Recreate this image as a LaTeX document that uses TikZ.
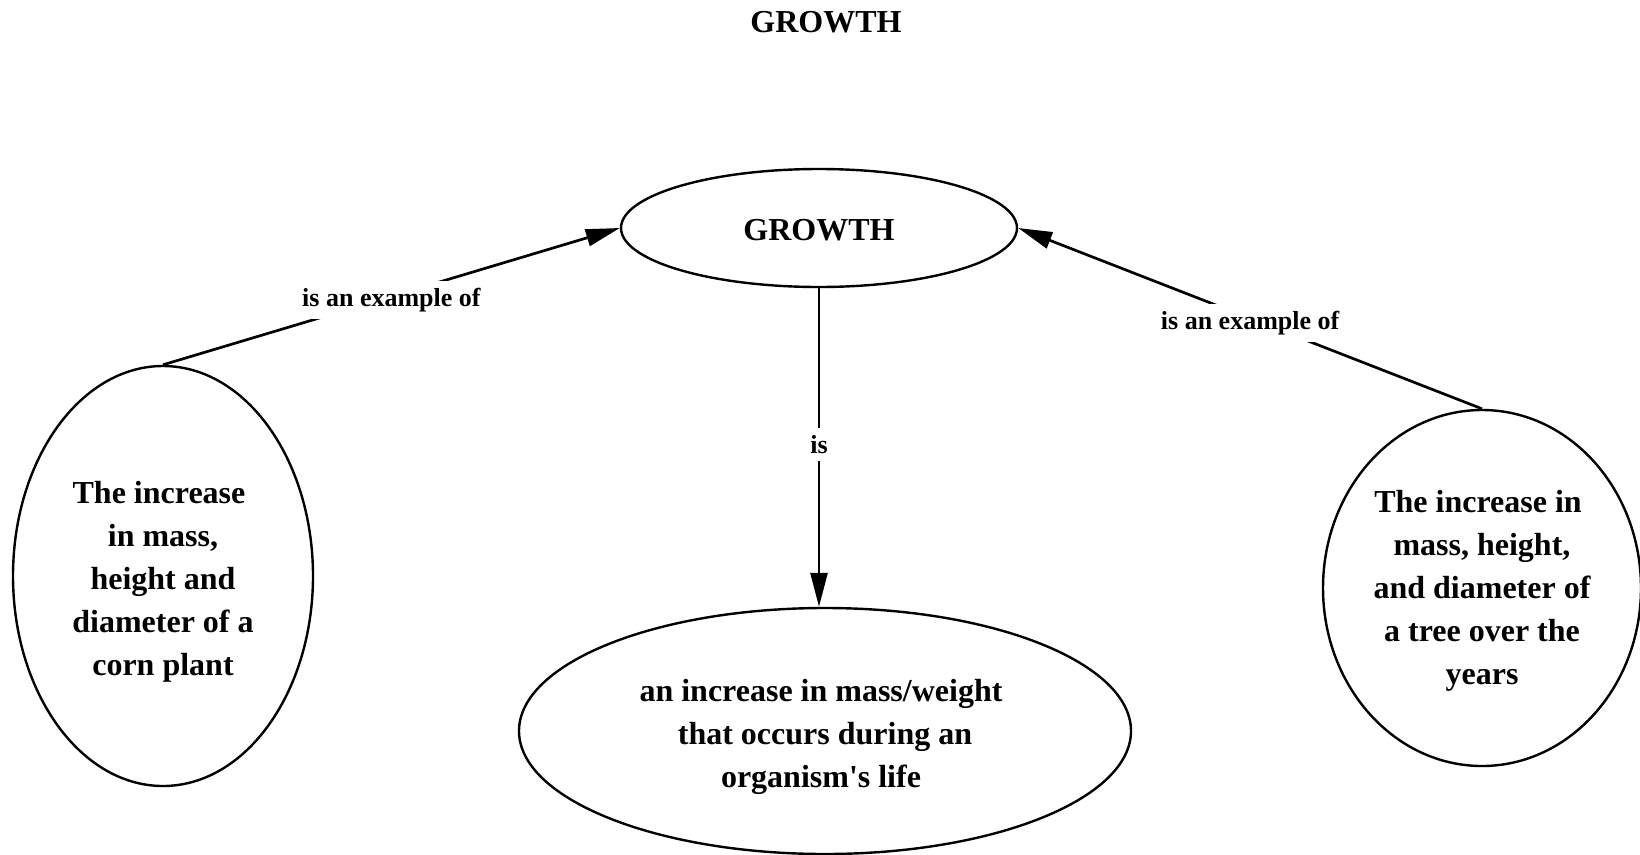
\documentclass[tikz,border=0pt]{standalone}
\usepackage{fontspec}
\setmainfont{Liberation Serif}
\usetikzlibrary{shapes.geometric,arrows.meta}

\tikzset{
  concept/.style={ellipse, draw=black, line width=2.4pt, inner sep=0pt},
  concepttext/.style={align=center, inner sep=0pt,
    font=\bfseries\fontsize{32}{43}\selectfont},
  linklabel/.style={fill=white, inner sep=7pt,
    font=\bfseries\fontsize{26}{30}\selectfont},
  link/.style={line width=2.7pt, -{Triangle[length=34pt,width=17pt]}},
  heading/.style={font=\bfseries\fontsize{32}{38}\selectfont}
}
\newcommand{\tsp}{\hspace*{0.25em}}

\begin{document}
\begin{tikzpicture}[x=1pt,y=-1pt]
  \useasboundingbox (0,0) rectangle (1640,854);

  % title
  \node[heading] (title) at (826,22) {GROWTH};

  % concepts (outline plus centred text, set slightly low as in the map layout)
  \node[concept, minimum width=396pt, minimum height=118pt,
    label={[name=growthtext, concepttext, yshift=-2pt]center:GROWTH}] (growth) at (819,228) {};
  \node[concept, minimum width=300pt, minimum height=420pt,
    label={[name=corntext, concepttext, yshift=-6pt]center:{The increase\tsp\\in mass,\\height and\tsp\\diameter of a\\corn plant}}]
    (corn) at (163,576) {};
  \node[concept, minimum width=318pt, minimum height=356pt,
    label={[name=treetext, concepttext, yshift=-3pt]center:{The increase in\tsp\\mass, height,\\and diameter of\\a tree over the\\years}}]
    (tree) at (1482,588) {};
  \node[concept, minimum width=612pt, minimum height=246pt,
    label={[name=deftext, concepttext, yshift=-6pt]center:{an increase in mass/weight\tsp\\that occurs during an\\organism\textquotesingle s life\tsp}}]
    (def) at (825,731) {};

  % links
  \draw[link] (corn.north) -- node[linklabel, yshift=-4pt] (l1) {is an example of} (growth.west);
  \draw[link] (tree.north) -- node[linklabel, yshift=-5pt] (l2) {is an example of} (growth.east);
  \draw[link] (growth.south) -- node[linklabel, yshift=3pt] (l3) {is} (growth.south |- def.north);
\end{tikzpicture}
\end{document}
